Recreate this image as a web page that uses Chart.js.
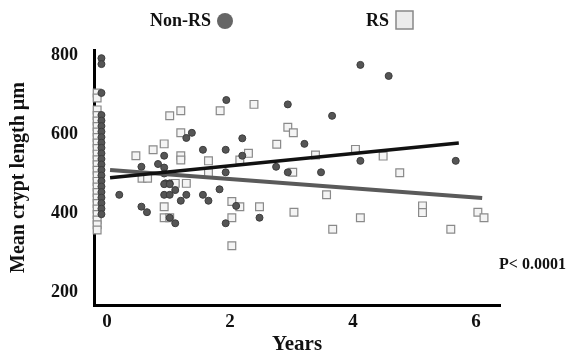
<!DOCTYPE html>
<html>
<head>
<meta charset="utf-8">
<script src="https://cdn.jsdelivr.net/npm/chart.js@4"></script>
<style>
  body { margin: 0; background: #fff; }
</style>
</head>
<body>
<canvas id="myChart" width="572" height="352"></canvas>
<script>
// crypt length vs years, two groups
var nonRsYears = [
  -0.09, -0.09, -0.09, -0.09, -0.09, -0.09, -0.09, -0.09, -0.09, -0.09, -0.09,
  -0.09, -0.09, -0.09, -0.09, -0.09, -0.09, -0.09, -0.09, -0.09, -0.09, -0.09,
  0.20, 0.56, 0.56, 0.65, 0.83, 0.93, 0.93, 0.93, 0.95, 1.02, 0.93, 1.02, 0.93, 1.02,
  1.11, 1.20, 1.29, 1.29, 1.38, 1.56, 1.56, 1.65, 1.83, 1.93, 1.93, 1.93, 1.94,
  1.02, 1.11, 2.10, 2.48, 2.20, 2.20, 2.94, 3.66, 3.21, 2.75, 2.94, 3.48,
  4.12, 4.12, 4.58, 5.67
];
var nonRsLength = [
  792, 777, 704, 648, 634, 620, 606, 592, 578, 565, 551,
  537, 523, 509, 495, 481, 467, 453, 439, 425, 411, 397,
  446, 517, 416, 402, 524, 545, 515, 500, 475, 475, 446, 446, 473, 473,
  458, 431, 446, 590, 603, 560, 446, 431, 460, 560, 503, 374, 686,
  388, 374, 418, 388, 589, 545, 675, 646, 575, 517, 503, 503,
  532, 775, 747, 532
];

var rsYears = [
  -0.16, -0.16, -0.16, -0.16, -0.16, -0.16, -0.16, -0.16, -0.16, -0.16, -0.16, -0.16, -0.16,
  -0.16, -0.16, -0.16, -0.16, -0.16, -0.16, -0.16, -0.16, -0.16, -0.16, -0.16, -0.16,
  1.02, 1.20, 1.84, 0.47, 0.75, 0.93, 1.20, 1.20, 1.20, 0.57, 0.66, 1.65, 1.65,
  1.11, 1.29, 0.93, 0.93, 1.02, 2.03, 2.16, 2.03, 2.03, 2.48, 3.04,
  2.39, 2.94, 3.03, 2.76, 2.30, 2.16, 3.39, 4.04, 3.02, 3.57, 3.67, 4.12,
  4.49, 4.76, 5.13, 5.13, 5.59, 6.03, 6.13
];
var rsLength = [
  704, 691, 661, 647, 633, 619, 605, 591, 577, 563, 549, 535, 522,
  508, 494, 480, 466, 452, 438, 424, 410, 396, 382, 370, 357,
  646, 659, 659, 545, 560, 575, 603, 545, 534, 488, 488, 532, 502,
  475, 475, 416, 388, 388, 429, 416, 388, 317, 416, 402,
  675, 617, 603, 574, 551, 534, 547, 561, 503, 446, 359, 388,
  544, 502, 418, 401, 359, 402, 388
];

// fitted trend lines (end points)
var nonRsFitYears = [0.05, 5.72];
var nonRsFit = [489, 577];
var rsFitYears = [0.05, 6.10];
var rsFit = [509, 438];

var xTicks = [0, 2, 4, 6];
var yTicks = [200, 400, 600, 800];

var legendNames = ['Non-RS', 'RS'];
var pText = 'P< 0.0001';

function toPoints(xs, ys) {
  var pts = [];
  for (var i = 0; i < xs.length; i++) {
    pts.push({ x: xs[i], y: ys[i] });
  }
  return pts;
}

var serif = '"Liberation Serif", "Times New Roman", serif';

// legend with the marker after the name, and the p value
var extras = {
  id: 'extras',
  afterDraw: function (chart) {
    var ctx = chart.ctx;
    ctx.save();
    ctx.font = 'bold 18px ' + serif;
    ctx.fillStyle = '#111';
    ctx.textAlign = 'right';
    ctx.textBaseline = 'middle';
    ctx.fillText(legendNames[0], 211, 21);
    ctx.fillText(legendNames[1], 389, 21);

    ctx.beginPath();
    ctx.arc(225, 21, 8, 0, Math.PI * 2);
    ctx.fillStyle = '#666';
    ctx.fill();

    ctx.fillStyle = '#ececec';
    ctx.strokeStyle = '#888';
    ctx.lineWidth = 1.5;
    ctx.fillRect(396, 11, 17, 18);
    ctx.strokeRect(396, 11, 17, 18);

    ctx.font = 'bold 16px ' + serif;
    ctx.fillStyle = '#111';
    ctx.textAlign = 'left';
    ctx.fillText(pText, 499, 265);
    ctx.restore();
  }
};

var ctx = document.getElementById('myChart').getContext('2d');
var chart = new Chart(ctx, {
  type: 'scatter',
  data: {
    datasets: [{
      label: 'Non-RS fit',
      data: toPoints(nonRsFitYears, nonRsFit),
      showLine: true,
      pointRadius: 0,
      borderColor: '#111',
      borderWidth: 3.5,
      order: 0
    }, {
      label: 'RS fit',
      data: toPoints(rsFitYears, rsFit),
      showLine: true,
      pointRadius: 0,
      borderColor: '#5a5a5a',
      borderWidth: 4,
      order: 0
    }, {
      label: legendNames[0],
      data: toPoints(nonRsYears, nonRsLength),
      pointStyle: 'circle',
      pointRadius: 3.5,
      backgroundColor: '#555',
      borderColor: '#3c3c3c',
      borderWidth: 1,
      clip: false,
      order: 1
    }, {
      label: legendNames[1],
      data: toPoints(rsYears, rsLength),
      pointStyle: 'rect',
      pointRadius: 5.5,
      backgroundColor: '#f4f4f4',
      borderColor: '#8a8a8a',
      borderWidth: 1.2,
      clip: false,
      order: 2
    }]
  },
  options: {
    responsive: false,
    animation: false,
    devicePixelRatio: 1,
    layout: { padding: { top: 50, right: 72, left: 0, bottom: 0 } },
    plugins: {
      legend: { display: false },
      tooltip: { enabled: false }
    },
    scales: {
      x: {
        type: 'linear',
        min: -0.211,
        max: 6.39,
        grid: { display: false, drawTicks: false },
        border: { display: true, color: '#000', width: 3 },
        afterBuildTicks: function (axis) {
          axis.ticks = xTicks.map(function (v) { return { value: v }; });
        },
        afterFit: function (axis) { axis.height = 47; },
        ticks: {
          padding: 6,
          color: '#111',
          font: { family: serif, size: 19, weight: 'bold' }
        },
        title: {
          display: true,
          text: 'Years',
          color: '#111',
          padding: { top: 0, bottom: -5 },
          font: { family: serif, size: 21, weight: 'bold' }
        }
      },
      y: {
        min: 167,
        max: 812.7,
        grid: { display: false, drawTicks: false },
        border: { display: true, color: '#000', width: 3 },
        afterBuildTicks: function (axis) {
          axis.ticks = yTicks.map(function (v) { return { value: v }; });
        },
        afterFit: function (axis) { axis.width = 94; },
        ticks: {
          padding: 16,
          color: '#111',
          font: { family: serif, size: 18, weight: 'bold' }
        },
        title: {
          display: true,
          text: 'Mean crypt length µm',
          color: '#111',
          padding: { top: 7, bottom: 0 },
          font: { family: serif, size: 20, weight: 'bold' }
        }
      }
    }
  },
  plugins: [extras]
});
</script>
</body>
</html>
